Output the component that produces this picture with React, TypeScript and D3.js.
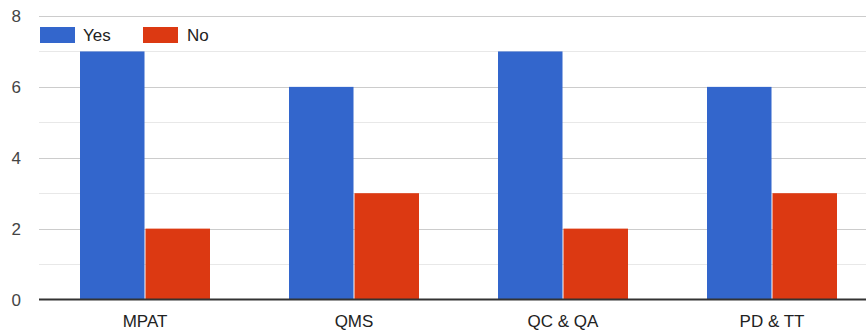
import React from "react";
import * as d3 from "d3";

const categories = ["MPAT", "QMS", "QC & QA", "PD & TT"];
const seriesNames = ["Yes", "No"];
const yesValues = [7, 6, 7, 6];
const noValues = [2, 3, 2, 3];
const colors = ["#3366cc", "#dc3912"];
const majorTicks = [0, 2, 4, 6, 8];
const minorTicks = [1, 3, 5, 7];

export default function App() {
  const W = 866, H = 333;
  const left = 39, right = 866;
  const y = d3.scaleLinear().domain([0, 8]).range([299.5, 16]);
  const x = d3.scaleBand<string>().domain(categories).range([40.5, 876.5]).paddingInner(0.378).paddingOuter(0.189);
  const inner = d3.scaleBand<string>().domain(seriesNames).range([0, x.bandwidth()]).paddingInner(0.015);
  const series = [yesValues, noValues];
  const font = "'Liberation Sans', Arial, sans-serif";
  return (
    <svg width={W} height={H} style={{ position: "absolute", left: 0, top: 0, background: "#fff" }} fontFamily={font}>
      {minorTicks.map((t) => (
        <line key={"m" + t} x1={left} x2={right} y1={Math.round(y(t)) + 0.5} y2={Math.round(y(t)) + 0.5} stroke="#e8e8e8" strokeWidth={1} />
      ))}
      {majorTicks.map((t) => (
        <g key={"M" + t}>
          {t !== 0 && <line x1={left} x2={right} y1={Math.round(y(t)) + 0.5} y2={Math.round(y(t)) + 0.5} stroke="#cccccc" strokeWidth={1} />}
          <text x={21} y={y(t) + 6} textAnchor="end" fontSize={17} fill="#444">{t}</text>
        </g>
      ))}
      <rect x={left} y={20} width={220} height={30} fill="#fff" />
      {seriesNames.map((s, i) => (
        <g key={s}>
          <rect x={40 + i * 103} y={27} width={35} height={16} fill={colors[i]} />
          <text x={83 + i * 104} y={41} fontSize={17} fill="#222">{s}</text>
        </g>
      ))}
      {categories.map((c, ci) => (
        <g key={c}>
          {series.map((vals, si) => (
            <rect key={si} x={(x(c) as number) + (inner(seriesNames[si]) as number)} y={y(vals[ci])} width={inner.bandwidth()} height={y(0) - y(vals[ci])} fill={colors[si]} />
          ))}
          <text x={(x(c) as number) + x.bandwidth() / 2} y={327} textAnchor="middle" fontSize={17} fill="#222">{c}</text>
        </g>
      ))}
      <line x1={left} x2={right} y1={299.5} y2={299.5} stroke="#333" strokeWidth={2} />
    </svg>
  );
}
